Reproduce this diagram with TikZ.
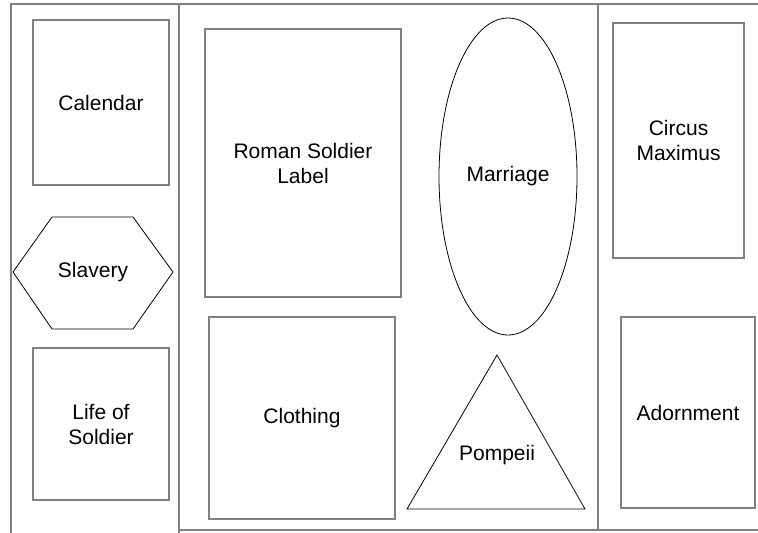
\documentclass[tikz,border=0pt]{standalone}
\usepackage{fontspec}
\setmainfont{Liberation Sans}
\usetikzlibrary{shapes.geometric}
\begin{document}
\begin{tikzpicture}[x=.5pt,y=-.5pt,
    font=\fontsize{10.5}{12.5}\selectfont,
    panel/.style={draw=black!50,line width=.8pt},
    box/.style={draw=black!50,line width=.6pt,align=center,inner sep=0pt},
    outline/.style={draw=black,line width=.4pt}]
  \useasboundingbox (0,0) rectangle (758,532);
  \clip (0,0) rectangle (758,532);
  \draw[panel] (11,4) rectangle (179,545) (179,4) rectangle (598,530) (598,4) rectangle (775,530);
  % left column
  \path node[box,minimum width=68pt,minimum height=82.5pt] (cal) at (101,102.5) {Calendar}
        node (slav) at (93,272) {Slavery}
        node[box,minimum width=68pt,minimum height=76pt] (life) at (101,424) {Life of\\Soldier};
  \draw[outline] (slav) +(-80,0) -- +(-41,-55) -- +(40,-55) -- +(80,0) -- +(40,57) -- +(-41,57) -- cycle;
  % middle column
  \path node[box,minimum width=98pt,minimum height=134pt] (label) at (303,163) {Roman Soldier\\Label}
        node[box,minimum width=93pt,minimum height=101pt] (cloth) at (302,418) {Clothing}
        node[outline,ellipse,inner sep=0pt,minimum width=69pt,minimum height=158.5pt] (marr) at (508,176.5) {Marriage}
        node (pomp) at (497,455) {Pompeii};
  \draw[outline] (pomp) +(0,-100) -- +(88,54) -- +(-90,54) -- cycle;
  % right column
  \path node[box,minimum width=65.5pt,minimum height=117.5pt] (circ) at (678.5,140.5) {Circus\\Maximus}
        node[box,minimum width=67pt,minimum height=95.5pt] (adorn) at (688,412.5) {Adornment};
\end{tikzpicture}
\end{document}
